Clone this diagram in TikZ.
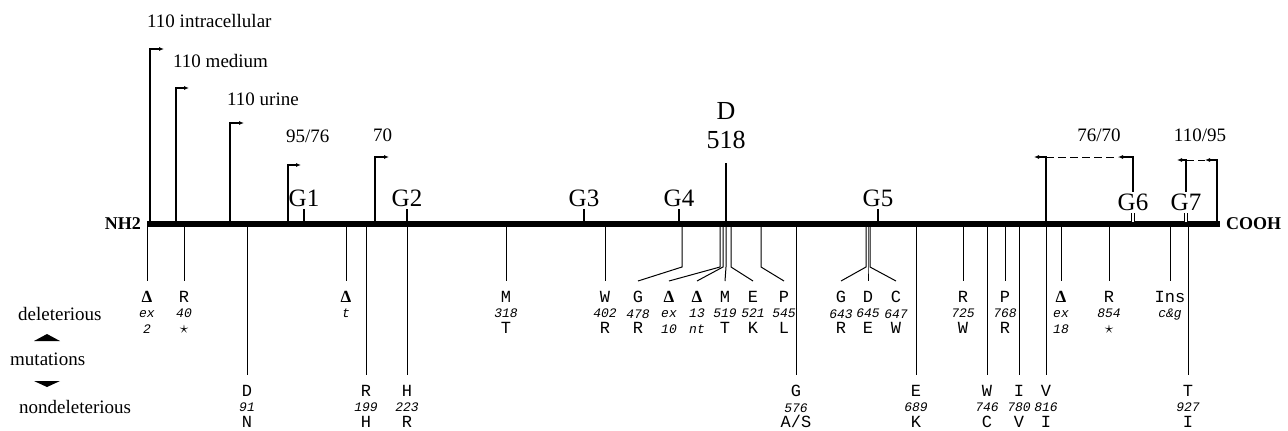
\documentclass[tikz,border=0pt]{standalone}
\usepackage{fontspec}
\setmainfont{Liberation Serif}
\setmonofont{Liberation Mono}
\usetikzlibrary{arrows.meta}
\tikzset{>={Latex[length=5pt,width=4pt]}}
\tikzset{protein/.style={line width=6pt}}
\tikzset{endlab/.style={font=\bfseries\fontsize{18}{20}\selectfont,inner xsep=6pt,inner ysep=0pt}}
\tikzset{flag/.style={line width=1.8pt,->}}
\tikzset{link/.style={line width=1pt,dash pattern=on 8pt off 4pt}}
\tikzset{toplab/.style={font=\fontsize{19}{22}\selectfont,inner sep=0pt}}
\tikzset{glab/.style={font=\fontsize{25}{28}\selectfont,inner xsep=0pt,inner ysep=2pt,anchor=south}}
\tikzset{gtick/.style={line width=2pt}}
\tikzset{gtwin/.style={double,double distance=2pt,line width=0.8pt}}
\tikzset{mutlab/.style={font=\ttfamily\fontsize{17}{15.5}\selectfont,align=center,anchor=north,inner xsep=0pt,inner ysep=10pt}}
\tikzset{mutline/.style={line width=1pt}}
\tikzset{leglab/.style={font=\fontsize{19}{22}\selectfont,inner sep=0pt,anchor=west}}
\newcommand\mnum{\itshape\fontsize{13}{16}\selectfont}
\newcommand\dlt{{\rmfamily\bfseries Δ}}

\begin{document}
\begin{tikzpicture}[x=1pt,y=-1pt]
  \useasboundingbox (0,0) rectangle (1288,431);
  % protein backbone
  \node[endlab,anchor=east] (nh2) at (147,224) {NH2};
  \node[endlab,anchor=west] (cooh) at (1220,224) {COOH};
  \draw[protein] (nh2.east) -- (cooh.west);

  % transcripts on the left
  \foreach \n/\x/\y/\tx in {1/150/49/164,2/176/88/189,3/230/123/244,4/288/165/301,5/375/157/389}{
    \coordinate (f\n) at (\x,224);
    \coordinate (t\n) at (\tx,\y);
    \draw[flag] (f\n) |- (t\n);
  }
  \node[toplab,anchor=west] (l1) at (147,21) {110 intracellular};
  \node[toplab,anchor=west] (l2) at (173,61) {110 medium};
  \node[toplab,anchor=west] (l3) at (227,99) {110 urine};
  \node[toplab,anchor=west] (l4) at (286,136) {95/76};
  \node[toplab,anchor=west] (l5) at (373,135) {70};
  \node[toplab] (l6) at (1099,135) {76/70};
  \node[toplab] (l7) at (1200,135) {110/95};

  % glycosylation sites
  \foreach \n/\x in {1/304,2/407,3/584,4/679,5/878}{
    \coordinate (g\n a) at (\x,224);
    \node[glab] (g\n) at (\x,209) {G\n};
    \draw[gtick] (g\n) -- (g\n a);
  }
  \foreach \n/\x in {6/1133,7/1186}{
    \coordinate (g\n a) at (\x,222);
    \node[glab] (g\n) at (\x,213) {G\n};
    \draw[gtwin] (g\n) -- (g\n a);
  }

  % deleterious
  \foreach \n/\x/\t in {ex2/147/{\dlt\\{\mnum ex}\\{\mnum 2}},
      r40/184/{R\\{\mnum 40}\\$\star$},
      dt/346/{\dlt\\{\mnum t}},
      m318/506/{M\\{\mnum 318}\\T},
      w402/605/{W\\{\mnum 402}\\R},
      r725/963/{R\\{\mnum 725}\\W},
      p768/1005/{P\\{\mnum 768}\\R},
      ex18/1061/{\dlt\\{\mnum ex}\\{\mnum 18}},
      r854/1109/{R\\{\mnum 854}\\$\star$},
      ins/1170/{Ins\\{\mnum c\&g}}}{
    \coordinate (a\n) at (\x,224);
    \node[mutlab] (m\n) at (\x,281) {\t};
    \draw[mutline] (a\n) -- (m\n.north);
  }
  \foreach \n/\x/\lx/\t in {g478/682/638/{G\\{\mnum 478}\\R},
      ex10/720/669/{\dlt\\{\mnum ex}\\{\mnum 10}},
      nt13/723/697/{\dlt\\{\mnum 13}\\{\mnum nt}},
      m519/726/725/{M\\{\mnum 519}\\T},
      e521/731/753/{E\\{\mnum 521}\\K},
      p545/761/784/{P\\{\mnum 545}\\L},
      g643/866/841/{G\\{\mnum 643}\\R},
      d645/868/868/{D\\{\mnum 645}\\E},
      c647/870/896/{C\\{\mnum 647}\\W}}{
    \coordinate (a\n) at (\x,224);
    \coordinate (k\n) at (\x,267);
    \node[mutlab] (m\n) at (\lx,281) {\t};
    \draw[mutline] (a\n) -- (k\n) -- (m\n.north);
  }

  % nondeleterious
  \foreach \n/\x/\t in {d91/247/{D\\{\mnum 91}\\N},
      r199/366/{R\\{\mnum 199}\\H},
      h223/407/{H\\{\mnum 223}\\R},
      g576/796/{G\\{\mnum 576}\\A/S},
      e689/916/{E\\{\mnum 689}\\K},
      w746/987/{W\\{\mnum 746}\\C},
      i780/1019/{I\\{\mnum 780}\\V},
      v816/1046/{V\\{\mnum 816}\\I},
      t927/1188/{T\\{\mnum 927}\\I}}{
    \coordinate (a\n) at (\x,224);
    \node[mutlab] (m\n) at (\x,375) {\t};
    \draw[mutline] (a\n) -- (m\n.north);
  }

  % D518
  \node[font=\fontsize{26}{29}\selectfont,align=center,anchor=south,inner sep=0pt] (d518) at (726,149) {D\\518};
  \draw[gtick,shorten <=14pt] (d518.south) -- (am519);

  % transcripts on the right
  \coordinate (k6a) at (1046,157);
  \coordinate (t6a) at (1034,157);
  \coordinate (t6b) at (1118,157);
  \draw[flag] (av816) |- (t6a);
  \draw[flag] (g6.north) |- (t6b);
  \draw[link] (k6a) -- (t6b);
  \coordinate (c7b) at (1217,224);
  \coordinate (k7a) at (1186,160);
  \coordinate (t7a) at (1177,160);
  \coordinate (t7b) at (1205,160);
  \draw[flag] (g7.north) |- (t7a);
  \draw[flag] (c7b) |- (t7b);
  \draw[link] (k7a) -- (t7b);

  % legend
  \node[leglab] (del) at (18,314) {deleterious};
  \node[leglab] (mut) at (10,359) {mutations};
  \node[leglab] (nondel) at (19,407) {nondeleterious};
  \fill (47,334) -- (60,341) -- (34,341) -- cycle;
  \fill (34,381) -- (60,381) -- (47,387) -- cycle;
\end{tikzpicture}
\end{document}
